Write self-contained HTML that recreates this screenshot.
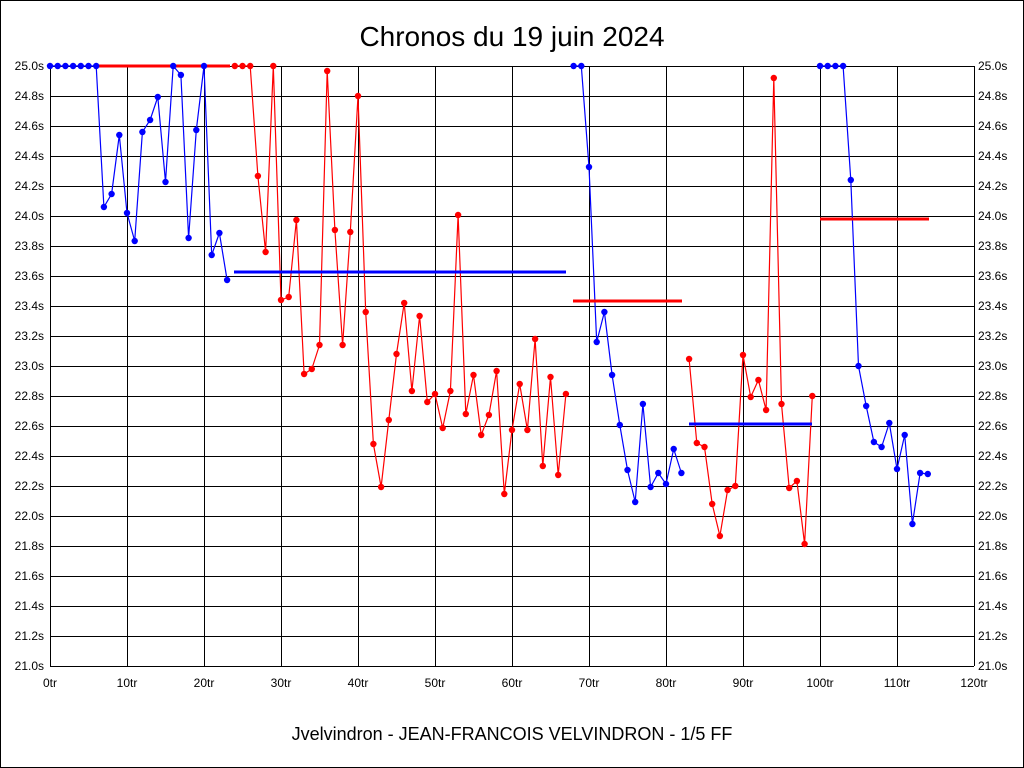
<!DOCTYPE html>
<html><head><style>body{margin:0;background:#fff}svg{display:block}</style></head><body>
<svg width="1024" height="768" xmlns="http://www.w3.org/2000/svg" font-family="Liberation Sans, sans-serif">
<rect x="0.5" y="0.5" width="1023" height="767" fill="#fff" stroke="#000"/>
<text x="512" y="46" font-size="28" text-anchor="middle">Chronos du 19 juin 2024</text>
<text x="512" y="740" font-size="18" text-anchor="middle">Jvelvindron - JEAN-FRANCOIS VELVINDRON - 1/5 FF</text>
<g id="grid" stroke="#000" stroke-width="1"></g>
<g id="lab" font-size="12"></g>
<g id="ser"></g>
<script>
var g=document.getElementById('grid'),lab=document.getElementById('lab'),ser=document.getElementById('ser');
var NS='http://www.w3.org/2000/svg';
function el(p,t,a,txt){var e=document.createElementNS(NS,t);for(var k in a)e.setAttribute(k,a[k]);if(txt!=null)e.textContent=txt;p.appendChild(e);return e;}
for(var i=0;i<=20;i++){var y=66+i*30;el(g,'line',{x1:50,x2:974,y1:y+.5,y2:y+.5});
var v=(25-i*0.2).toFixed(1)+'s';el(lab,'text',{x:44,y:y+4,'text-anchor':'end'},v);el(lab,'text',{x:978,y:y+4},v);}
for(var i=0;i<=12;i++){var x=50+i*77;el(g,'line',{x1:x+.5,x2:x+.5,y1:66,y2:666});el(lab,'text',{x:x,y:687,'text-anchor':'middle'},(i*10)+'tr');}
function X(i){return 50+7.7*i;}
var segs=[['#00f',0,[66,66,66,66,66,66,66,207,194,135,213,241,132,120,97,182,66,75,238,130,66,255,233,280]],
['#f00',24,[66,66,66,176,252,66,300,297,220,374,369,345,71,230,345,232,96,312,444,487,420,354,303,391,316,402,394,428,391,215,414,375,435,415,371,494,430,384,430,339,466,377,475,394]],
['#00f',68,[66,66,167,342,312,375,425,470,502,404,487,473,484,449,473]],
['#f00',83,[359,443,447,504,536,490,486,355,397,380,410,78,404,488,481,544,396]],
['#00f',100,[66,66,66,66,180,366,406,442,447,423,469,435,524,473,474]]];
var avg=[['#f00',97,230,66],['#00f',234,566,272],['#f00',573,682,301],['#00f',689,812,424],['#f00',820,929,219]];
segs.forEach(function(s){var pts=s[2].map(function(y,k){return X(s[1]+k)+','+y;}).join(' ');
el(ser,'polyline',{points:pts,fill:'none',stroke:s[0],'stroke-width':1.2});});
avg.forEach(function(a){el(ser,'line',{x1:a[1],x2:a[2],y1:a[3],y2:a[3],stroke:a[0],'stroke-width':3});});
segs.forEach(function(s){s[2].forEach(function(y,k){el(ser,'circle',{cx:X(s[1]+k),cy:y,r:3.2,fill:s[0]});});});
</script>
</svg>
</body></html>
